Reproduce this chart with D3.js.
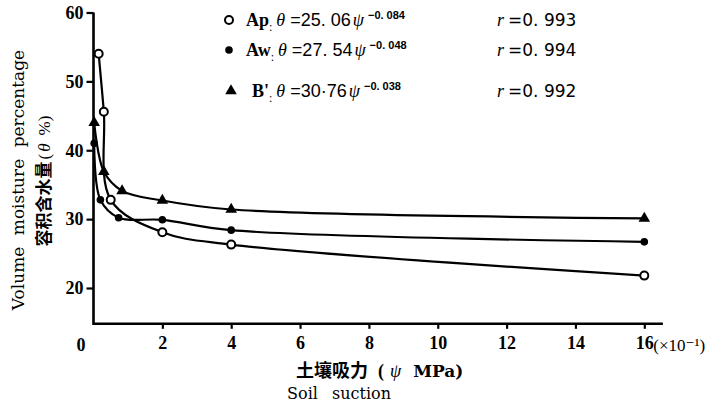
<!DOCTYPE html>
<html><head><meta charset="utf-8">
<script src="https://cdn.jsdelivr.net/npm/d3@7"></script>
<style>body{margin:0;background:#fff}svg{display:block}</style>
</head><body><svg id="c" width="715" height="407"></svg>
<script>
// Data; x in units of 10^-1 MPa
const apX = [0.15, 0.3, 0.5, 2, 4, 16];
const apY = [54.0, 45.6, 32.8, 28.1, 26.3, 21.8];
const awX = [0.02, 0.2, 0.73, 2, 4, 16];
const awY = [41.0, 32.8, 30.2, 29.9, 28.4, 26.7];
const bX  = [0.02, 0.3, 0.83, 2, 4, 16];
const bY  = [44.0, 36.9, 34.1, 32.7, 31.4, 30.1];
const xTicks = [2, 4, 6, 8, 10, 12, 14, 16];
const yTicks = [20, 30, 40, 50, 60];
const legendRows = [
  {name:"Ap", coef:"25. 06", exp:"−0. 084", r:"0. 993", sym:"open"},
  {name:"Aw", coef:"27. 54", exp:"−0. 048", r:"0. 994", sym:"fill"},
  {name:"B'", coef:"30·76", exp:"−0. 038", r:"0. 992", sym:"tri"}
];

const svg = d3.select("#c");
svg.append("rect").attr("width",715).attr("height",407).attr("fill","#fff");
const x = d3.scaleLinear().domain([0,16]).range([93.5,644.3]);
const y = d3.scaleLinear().domain([20,60]).range([288,12.5]);
const serif = "'Liberation Serif', 'DejaVu Serif', serif";
const wserif = "'DejaVu Serif', serif";
const sans = "'Liberation Sans', 'DejaVu Sans', sans-serif";
const cjk = "'Noto Sans CJK SC', sans-serif";

// axes lines
const xEnd = x(16.54), yBot = y(14.8);
svg.append("path").attr("d",`M${x(0)},${y(60)}V${yBot}H${xEnd}`)
  .attr("fill","none").attr("stroke","#000").attr("stroke-width",2.6);

const gx = svg.append("g").attr("transform",`translate(0,${yBot})`)
  .call(d3.axisBottom(x).tickValues(xTicks).tickSize(5).tickPadding(7).tickFormat(d3.format("d")));
gx.select(".domain").remove();
gx.selectAll(".tick line").attr("stroke","#000").attr("stroke-width",2.2);
gx.selectAll(".tick text").attr("font-family",serif).attr("font-weight","bold").attr("font-size",18).attr("fill","#000");
gx.append("text").attr("x",81).attr("y",27).attr("font-family",serif).attr("font-weight","bold")
  .attr("font-size",18).attr("fill","#000").attr("text-anchor","middle").text("0");
gx.append("text").attr("x",x(16)+9).attr("y",27).attr("font-family",serif)
  .attr("font-size",17).attr("fill","#000").attr("text-anchor","start").text("(×10⁻¹)");

const gy = svg.append("g").attr("transform",`translate(${x(0)},0)`)
  .call(d3.axisLeft(y).tickValues(yTicks).tickSize(7).tickPadding(3).tickFormat(d3.format("d")));
gy.select(".domain").remove();
gy.selectAll(".tick line").attr("stroke","#000").attr("stroke-width",2.2);
gy.selectAll(".tick text").attr("font-family",serif).attr("font-weight","bold").attr("font-size",18).attr("fill","#000");

// axis titles
const xt = svg.append("text").attr("x",296).attr("y",377).attr("text-anchor","start")
  .attr("font-size",18).attr("fill","#000");
xt.append("tspan").attr("font-family",cjk).attr("font-weight","bold").text("土壤吸力");
xt.append("tspan").attr("font-family",serif).attr("font-weight","bold").attr("dx",10).text("(");
xt.append("tspan").attr("font-family",serif).attr("font-style","italic").attr("dx",6).text("ψ");
xt.append("tspan").attr("font-family",wserif).attr("font-weight","bold").attr("font-size",17).attr("dx",12).text("MPa)");
svg.append("text").attr("x",339).attr("y",399).attr("text-anchor","middle")
  .attr("font-family",wserif).attr("font-size",16).attr("word-spacing",9).text("Soil suction");
svg.append("text").attr("transform","translate(24,180) rotate(-90)").attr("text-anchor","middle")
  .attr("font-family",wserif).attr("font-size",17).attr("word-spacing",6).text("Volume moisture percentage");
const yt = svg.append("text").attr("transform","translate(50,181) rotate(-90)").attr("text-anchor","middle")
  .attr("font-size",17).attr("fill","#000");
yt.append("tspan").attr("font-family",cjk).attr("font-weight","bold").text("容积含水量");
yt.append("tspan").attr("font-family",serif).attr("dx",2).text("(");
yt.append("tspan").attr("font-family",serif).attr("font-style","italic").attr("dx",2).text("θ");
yt.append("tspan").attr("font-family",serif).attr("dx",8).text("%)");

// curves
const line = d3.line().x(d=>x(d[0])).y(d=>y(d[1])).curve(d3.curveCatmullRom.alpha(0.5));
const series = [
  {xs:apX, ys:apY, sym:"open"},
  {xs:awX, ys:awY, sym:"fill"},
  {xs:bX,  ys:bY,  sym:"tri"}
];
series.forEach(s=>{
  const pts = s.xs.map((v,i)=>[v,s.ys[i]]);
  svg.append("path").attr("d",line(pts)).attr("fill","none").attr("stroke","#000").attr("stroke-width",2.2);
});
function marker(g, cx, cy, sym){
  if(sym==="open") g.append("circle").attr("cx",cx).attr("cy",cy).attr("r",4).attr("fill","#fff").attr("stroke","#000").attr("stroke-width",2);
  else if(sym==="fill") g.append("circle").attr("cx",cx).attr("cy",cy).attr("r",3.8).attr("fill","#000");
  else g.append("path").attr("d",d3.symbol(d3.symbolTriangle,58)()).attr("transform",`translate(${cx},${cy})`).attr("fill","#000");
}
series.forEach(s=>{
  s.xs.forEach((v,i)=>marker(svg, x(v), y(s.ys[i]), s.sym));
});

// legend
const ly = [20, 50, 91];
legendRows.forEach((row,i)=>{
  const g = svg.append("g").attr("transform",`translate(0,${ly[i]})`);
  marker(g, i===2?231:229, 0, row.sym);
  const t = g.append("text").attr("y",6).attr("font-family",serif).attr("font-size",18).attr("fill","#000");
  t.append("tspan").attr("x", i===2?252:246).attr("font-weight","bold").text(row.name);
  t.append("tspan").attr("dy",5).attr("font-size",12).text(":");
  t.append("tspan").attr("dy",-5).attr("dx",4).attr("font-style","italic").text("θ");
  t.append("tspan").attr("font-family",sans).attr("dx",5).text("=" + row.coef);
  t.append("tspan").attr("dx",2).attr("font-style","italic").text("ψ");
  t.append("tspan").attr("dy",-7).attr("dx",4).attr("font-size",11).attr("font-weight","bold")
    .attr("font-family",sans).text(row.exp);
  const t2 = g.append("text").attr("y",6).attr("font-size",18).attr("fill","#000");
  t2.append("tspan").attr("x",497).attr("font-style","italic").attr("font-family",serif).text("r");
  t2.append("tspan").attr("font-family","'DejaVu Sans', sans-serif").attr("font-size",17).attr("dx",4).text("=" + row.r);
});
</script></body></html>
